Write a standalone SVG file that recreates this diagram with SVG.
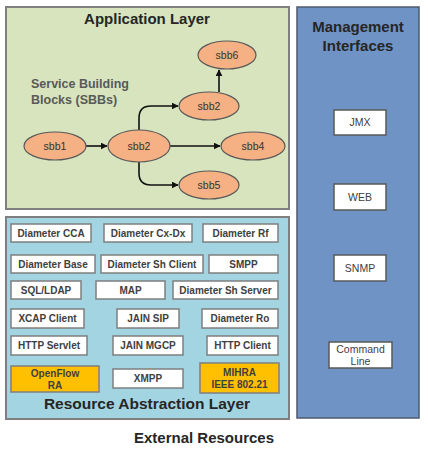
<svg xmlns="http://www.w3.org/2000/svg" width="428" height="450" viewBox="0 0 428 450">
<defs>
<marker id="arr" viewBox="0 0 10 10" refX="9" refY="5" markerWidth="7" markerHeight="7" orient="auto" markerUnits="userSpaceOnUse">
<path d="M0,0 L10,5 L0,10 z" fill="#111"/>
</marker>
<style>
.layer{stroke:#7f7f7f;stroke-width:2}
.title{font-family:"Liberation Sans",Arial,sans-serif;font-weight:bold;fill:#262626;text-anchor:middle}
.sbb ellipse{fill:#f5b183;stroke:#595959;stroke-width:1.2}
.sbb text{font-family:"Liberation Sans",Arial,sans-serif;font-size:10.5px;fill:#333;text-anchor:middle}
.box rect{fill:#fff;stroke:#7f7f7f;stroke-width:1.5}
.box.y rect{fill:#ffc000}
.box text{font-family:"Liberation Sans",Arial,sans-serif;font-weight:bold;font-size:10px;fill:#404040;text-anchor:middle}
.mi rect{fill:#fff;stroke:#595959;stroke-width:1.5}
.mi text{font-family:"Liberation Sans",Arial,sans-serif;font-size:10.5px;fill:#404040;text-anchor:middle}
.conn path{fill:none;stroke:#111;stroke-width:1.6;marker-end:url(#arr)}
</style>
</defs>
<rect width="428" height="450" fill="#fff"/>

<g id="application-layer">
<rect class="layer" x="6" y="7" width="283" height="202" fill="#d7e4bd"/>
<text class="title" x="147" y="24" font-size="15">Application Layer</text>
<text x="31" y="88" font-family="Liberation Sans,Arial,sans-serif" font-weight="bold" font-size="12.5" fill="#595959">Service Building</text>
<text x="31" y="104" font-family="Liberation Sans,Arial,sans-serif" font-weight="bold" font-size="12.5" fill="#595959">Blocks (SBBs)</text>
</g>

<g id="resource-abstraction-layer">
<rect class="layer" x="6" y="217" width="283" height="202" fill="#a3d4e1"/>
<text class="title" x="147" y="409" font-size="15.5">Resource Abstraction Layer</text>
</g>

<g id="management-interfaces">
<rect x="297" y="7" width="122" height="411" fill="#6f93c4" stroke="#4d5a6b" stroke-width="1.5"/>
<text class="title" x="358" y="32" font-size="15">Management</text>
<text class="title" x="358" y="51" font-size="15">Interfaces</text>
</g>

<g id="external-resources">
<text class="title" x="204" y="443" font-size="15">External Resources</text>
</g>

<g class="conn" id="connectors">
<path d="M86,146 L107,146"/>
<path d="M139,130 L139,118 Q139,106 151,106 L178,106"/>
<path d="M170,146 L220,146"/>
<path d="M139,162 L139,173 Q139,185 151,185 L178,185"/>
<path d="M219,92 L219,70"/>
</g>

<g class="sbb" id="sbb1"><ellipse cx="55" cy="146" rx="31" ry="14"/><text x="55" y="150">sbb1</text></g>
<g class="sbb" id="sbb2"><ellipse cx="139" cy="146" rx="31" ry="16"/><text x="139" y="150">sbb2</text></g>
<g class="sbb" id="sbb2b"><ellipse cx="209" cy="106" rx="30" ry="14"/><text x="209" y="110">sbb2</text></g>
<g class="sbb" id="sbb6"><ellipse cx="227" cy="55" rx="29" ry="14"/><text x="227" y="59">sbb6</text></g>
<g class="sbb" id="sbb4"><ellipse cx="253" cy="146" rx="32" ry="14"/><text x="253" y="150">sbb4</text></g>
<g class="sbb" id="sbb5"><ellipse cx="209" cy="185" rx="30" ry="14"/><text x="209" y="189">sbb5</text></g>

<g class="box" id="diameter-cca"><rect x="11" y="224" width="80" height="18"/><text x="51" y="237">Diameter CCA</text></g>
<g class="box" id="diameter-cxdx"><rect x="104" y="224" width="88" height="18"/><text x="148" y="237">Diameter Cx-Dx</text></g>
<g class="box" id="diameter-rf"><rect x="203" y="224" width="75" height="18"/><text x="240.5" y="237">Diameter Rf</text></g>

<g class="box" id="diameter-base"><rect x="11" y="255" width="84" height="18"/><text x="53" y="268">Diameter Base</text></g>
<g class="box" id="diameter-sh-client"><rect x="101" y="255" width="102" height="18"/><text x="152" y="268">Diameter Sh Client</text></g>
<g class="box" id="smpp"><rect x="209" y="255" width="69" height="18"/><text x="243.5" y="268">SMPP</text></g>

<g class="box" id="sql-ldap"><rect x="11" y="281" width="70" height="18"/><text x="46" y="294">SQL/LDAP</text></g>
<g class="box" id="map"><rect x="96" y="281" width="69" height="18"/><text x="130.5" y="294">MAP</text></g>
<g class="box" id="diameter-sh-server"><rect x="173" y="281" width="105" height="18"/><text x="225.5" y="294">Diameter Sh Server</text></g>

<g class="box" id="xcap-client"><rect x="11" y="309" width="73" height="19"/><text x="47.5" y="322">XCAP Client</text></g>
<g class="box" id="jain-sip"><rect x="117" y="309" width="62" height="19"/><text x="148" y="322">JAIN SIP</text></g>
<g class="box" id="diameter-ro"><rect x="202" y="309" width="76" height="19"/><text x="240" y="322">Diameter Ro</text></g>

<g class="box" id="http-servlet"><rect x="11" y="336" width="76" height="19"/><text x="49" y="349">HTTP Servlet</text></g>
<g class="box" id="jain-mgcp"><rect x="113" y="336" width="70" height="19"/><text x="148" y="349">JAIN MGCP</text></g>
<g class="box" id="http-client"><rect x="207" y="336" width="71" height="19"/><text x="242.5" y="349">HTTP Client</text></g>

<g class="box y" id="openflow-ra"><rect x="11" y="366" width="88" height="26"/><text x="55" y="377">OpenFlow</text><text x="55" y="389">RA</text></g>
<g class="box" id="xmpp"><rect x="113" y="369" width="70" height="19"/><text x="148" y="382">XMPP</text></g>
<g class="box y" id="mihra"><rect x="200" y="363" width="79" height="30"/><text x="239.5" y="376">MIHRA</text><text x="239.5" y="388">IEEE 802.21</text></g>

<g class="mi" id="jmx"><rect x="334" y="110" width="52" height="25"/><text x="360" y="126">JMX</text></g>
<g class="mi" id="web"><rect x="334" y="184" width="52" height="26"/><text x="360" y="201">WEB</text></g>
<g class="mi" id="snmp"><rect x="334" y="255" width="52" height="26"/><text x="360" y="272">SNMP</text></g>
<g class="mi" id="command-line"><rect x="329" y="342" width="63" height="26"/><text x="360.5" y="353">Command</text><text x="360.5" y="365">Line</text></g>
</svg>
